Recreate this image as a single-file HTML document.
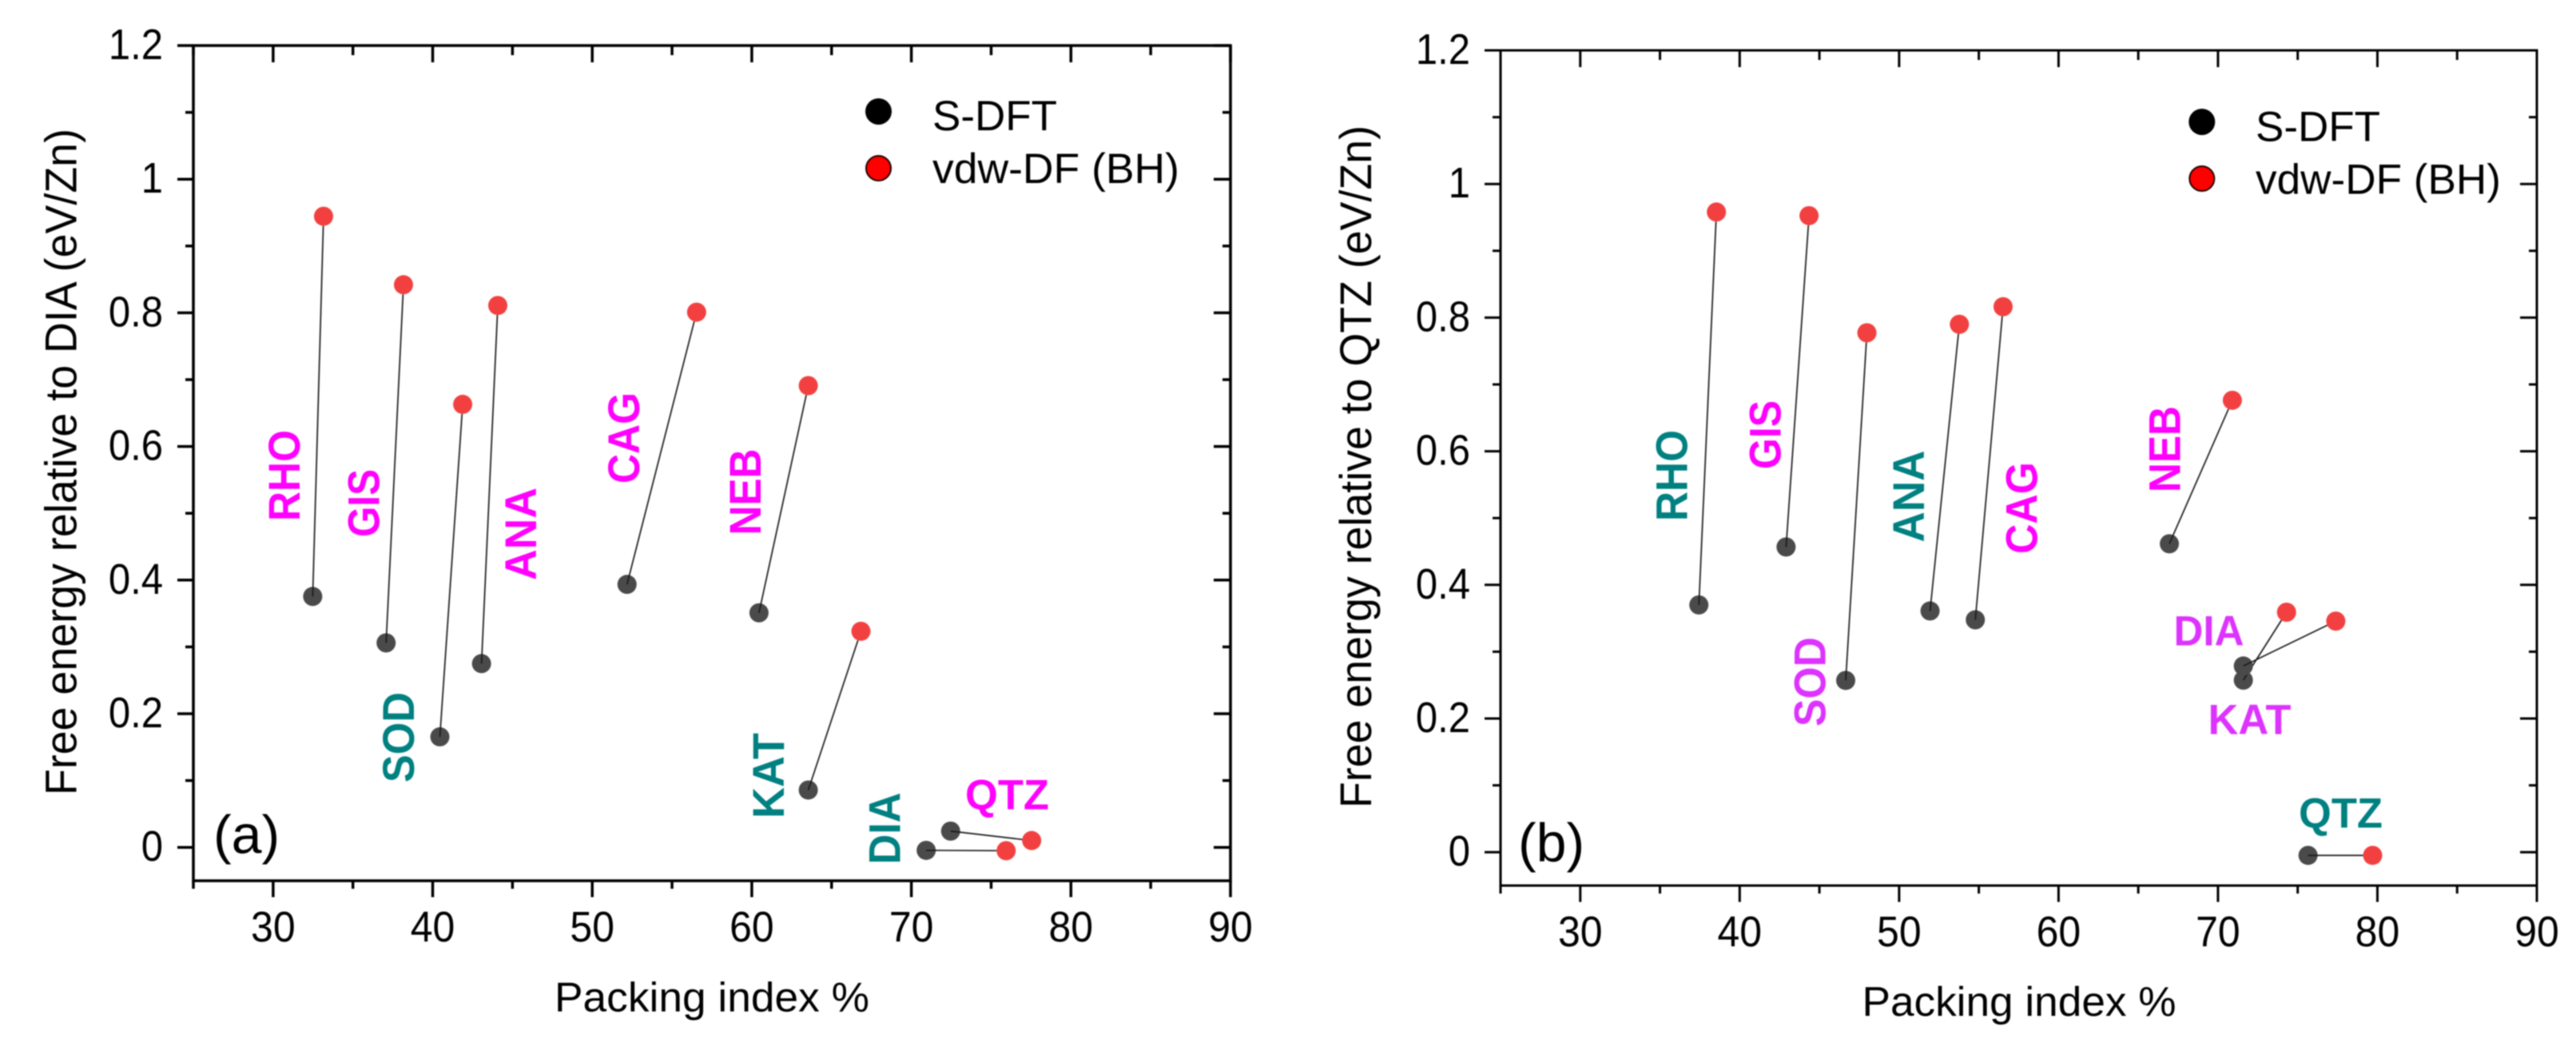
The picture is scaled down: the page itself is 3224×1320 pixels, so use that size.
<!DOCTYPE html>
<html lang="en">
<head>
<meta charset="utf-8">
<title>Free energy vs packing index</title>
<style>
html,body{margin:0;padding:0;background:#fff;width:3224px;height:1320px;overflow:hidden}
svg{display:block;filter:blur(0.7px)}
text{font-family:"Liberation Sans",Arial,sans-serif;fill:#000}
.site{font-weight:bold;font-size:53px}
.rot{font-size:56px}
.teal{fill:#008080}.mag{fill:#ff00ff}.pur{fill:#dd33ff}
.axt{font-size:52px}
.axr{font-size:56px}
.leg{font-size:53px}
.tag{font-size:68px}
</style>
</head>
<body>
<svg id="chart" xmlns="http://www.w3.org/2000/svg" width="3224" height="1320" viewBox="0 0 3224 1320">
  <rect width="3224" height="1320" fill="#fff"/>

  <g id="panel-a">
    <text class="axr" transform="translate(95.5,995) rotate(-90)" textLength="834" lengthAdjust="spacingAndGlyphs">Free energy relative to DIA (eV/Zn)</text>
    <text class="axt" x="694" y="1265.5" textLength="394" lengthAdjust="spacingAndGlyphs">Packing index %</text>
    <text class="tag" x="267" y="1067.5">(a)</text>
    <text class="site rot mag" transform="translate(375,652) rotate(-90)" textLength="114" lengthAdjust="spacingAndGlyphs">RHO</text>
    <text class="site rot mag" transform="translate(474.5,672) rotate(-90)" textLength="85" lengthAdjust="spacingAndGlyphs">GIS</text>
    <text class="site rot mag" transform="translate(671,726) rotate(-90)" textLength="116" lengthAdjust="spacingAndGlyphs">ANA</text>
    <text class="site rot mag" transform="translate(800,605) rotate(-90)" textLength="114" lengthAdjust="spacingAndGlyphs">CAG</text>
    <text class="site rot mag" transform="translate(952,669.5) rotate(-90)" textLength="108" lengthAdjust="spacingAndGlyphs">NEB</text>
    <text class="site rot teal" transform="translate(518,979) rotate(-90)" textLength="113" lengthAdjust="spacingAndGlyphs">SOD</text>
    <text class="site rot teal" transform="translate(981,1024) rotate(-90)" textLength="107" lengthAdjust="spacingAndGlyphs">KAT</text>
    <text class="site rot teal" transform="translate(1126.5,1081.5) rotate(-90)" textLength="90" lengthAdjust="spacingAndGlyphs">DIA</text>
    <text class="site mag" x="1208" y="1012.5" textLength="105" lengthAdjust="spacingAndGlyphs">QTZ</text>
    <g>
      <circle cx="1099.5" cy="139.5" r="16.5" fill="#000"/>
      <text class="leg" x="1167" y="163" textLength="156" lengthAdjust="spacingAndGlyphs">S-DFT</text>
      <circle cx="1099.5" cy="210.5" r="15.5" fill="#ff0000" stroke="#200" stroke-width="2"/>
      <text class="leg" x="1167" y="229" textLength="309" lengthAdjust="spacingAndGlyphs">vdw-DF (BH)</text>
    </g>
  </g>

  <g id="panel-b">
    <text class="axr" transform="translate(1716,1011) rotate(-90)" textLength="854" lengthAdjust="spacingAndGlyphs">Free energy relative to QTZ (eV/Zn)</text>
    <text class="axt" x="2330.5" y="1271" textLength="393" lengthAdjust="spacingAndGlyphs">Packing index %</text>
    <text class="tag" x="1900" y="1077.5">(b)</text>
    <text class="site rot teal" transform="translate(2111.5,652) rotate(-90)" textLength="114" lengthAdjust="spacingAndGlyphs">RHO</text>
    <text class="site rot mag" transform="translate(2228.5,587) rotate(-90)" textLength="86" lengthAdjust="spacingAndGlyphs">GIS</text>
    <text class="site rot pur" transform="translate(2284.5,909) rotate(-90)" textLength="112" lengthAdjust="spacingAndGlyphs">SOD</text>
    <text class="site rot teal" transform="translate(2408,678.5) rotate(-90)" textLength="115" lengthAdjust="spacingAndGlyphs">ANA</text>
    <text class="site rot mag" transform="translate(2549.5,693) rotate(-90)" textLength="115" lengthAdjust="spacingAndGlyphs">CAG</text>
    <text class="site rot mag" transform="translate(2728.5,616) rotate(-90)" textLength="108" lengthAdjust="spacingAndGlyphs">NEB</text>
    <text class="site pur" x="2720.5" y="807.5" textLength="88" lengthAdjust="spacingAndGlyphs">DIA</text>
    <text class="site pur" x="2763.5" y="918.5" textLength="104" lengthAdjust="spacingAndGlyphs">KAT</text>
    <text class="site teal" x="2877" y="1035.5" textLength="105" lengthAdjust="spacingAndGlyphs">QTZ</text>
    <g>
      <circle cx="2755.8" cy="152.5" r="16.5" fill="#000"/>
      <text class="leg" x="2823" y="176.5" textLength="156" lengthAdjust="spacingAndGlyphs">S-DFT</text>
      <circle cx="2755.8" cy="223.5" r="15.5" fill="#ff0000" stroke="#200" stroke-width="2"/>
      <text class="leg" x="2823" y="242.5" textLength="307" lengthAdjust="spacingAndGlyphs">vdw-DF (BH)</text>
    </g>
  </g>
</svg>
<script>
// Shared axis tick values
const xTickLabels = [30, 40, 50, 60, 70, 80, 90];
const xMinorTicks = [25, 35, 45, 55, 65, 75, 85];
const yTickLabels = [0, 0.2, 0.4, 0.6, 0.8, 1, 1.2];
const yMinorTicks = [0.1, 0.3, 0.5, 0.7, 0.9, 1.1];

// Panel (a): energies relative to DIA
const categoriesA = ['RHO', 'GIS', 'SOD', 'ANA', 'CAG', 'NEB', 'KAT', 'QTZ', 'DIA'];
const sDftPackingA = [32.48, 37.08, 40.45, 43.06, 52.18, 60.45, 63.54, 72.46, 70.93];
const sDftEnergyA = [0.3755, 0.306, 0.1654, 0.275, 0.3936, 0.351, 0.0858, 0.0243, -0.0045];
const vdwPackingA = [33.16, 38.17, 41.88, 44.08, 56.54, 63.54, 66.84, 77.54, 75.94];
const vdwEnergyA = [0.9445, 0.842, 0.663, 0.811, 0.801, 0.691, 0.3234, 0.0102, -0.005];

// Panel (b): energies relative to QTZ
const categoriesB = ['RHO', 'GIS', 'SOD', 'ANA', 'CAG', 'NEB', 'KAT', 'DIA', 'QTZ'];
const sDftPackingB = [37.44, 42.91, 46.65, 51.94, 54.78, 66.95, 71.59, 71.59, 75.65];
const sDftEnergyB = [0.37, 0.4567, 0.257, 0.361, 0.3477, 0.4615, 0.2574, 0.2786, -0.0048];
const vdwPackingB = [38.54, 44.35, 47.98, 53.78, 56.52, 70.9, 74.3, 77.39, 79.7];
const vdwEnergyB = [0.958, 0.9526, 0.7773, 0.79, 0.8163, 0.6763, 0.3591, 0.3458, -0.0048];

const NS = 'http://www.w3.org/2000/svg';
const X_MIN = 25, X_MAX = 90, Y_MIN = -0.05, Y_MAX = 1.2;

function make(parent, tag, attrs, txt) {
  const el = document.createElementNS(NS, tag);
  for (const k in attrs) el.setAttribute(k, attrs[k]);
  if (txt !== undefined) el.textContent = txt;
  parent.appendChild(el);
  return el;
}

// Natural advance of a numeric label, in em, used to narrow tall digits
function numWidth(s) {
  let w = 0;
  for (const ch of s) w += ch === '.' ? 0.278 : 0.556;
  return w;
}

function drawPanel(id, suffix, box, cats, sx, sy, vx, vy) {
  const root = document.getElementById(id);
  const xs = v => box.left + (v - X_MIN) / (X_MAX - X_MIN) * (box.right - box.left);
  const ys = v => box.bottom - (v - Y_MIN) / (Y_MAX - Y_MIN) * (box.bottom - box.top);
  const tickStyle = {stroke: '#000', 'stroke-width': box.sw, fill: 'none'};

  const frame = make(root, 'rect', Object.assign({x: box.left, y: box.top, width: box.right - box.left, height: box.bottom - box.top}, tickStyle));
  
  

  const xAxis = make(root, 'g', {});
  
  
  const yAxis = make(root, 'g', {});
  
  

  const hTick = (v, outLen, inLen) => {
    const y = ys(v);
    const a = make(yAxis, 'line', Object.assign({x1: box.left - outLen, x2: box.left, y1: y, y2: y}, tickStyle));
    
    
    const b = make(yAxis, 'line', Object.assign({x1: box.right - inLen, x2: box.right, y1: y, y2: y}, tickStyle));
    
    
  };
  const vTick = (v, outLen, inLen) => {
    const x = xs(v);
    const a = make(xAxis, 'line', Object.assign({x1: x, x2: x, y1: box.bottom, y2: box.bottom + outLen}, tickStyle));
    
    
    const b = make(xAxis, 'line', Object.assign({x1: x, x2: x, y1: box.top, y2: box.top + inLen}, tickStyle));
    
    
  };

  xTickLabels.forEach(v => {
    vTick(v, 20.5, 21);
    const s = String(v);
    const t = make(xAxis, 'text', {x: xs(v), y: box.bottom + 76, 'text-anchor': 'middle', 'font-size': 54, textLength: numWidth(s) * 50, lengthAdjust: 'spacingAndGlyphs'}, s);
    
    
  });
  xMinorTicks.forEach(v => vTick(v, 10, 12));
  yTickLabels.forEach(v => {
    hTick(v, 20, 21);
    const s = String(v);
    const t = make(yAxis, 'text', {x: box.left - 38, y: ys(v) + 17, 'text-anchor': 'end', 'font-size': 54, textLength: numWidth(s) * 49, lengthAdjust: 'spacingAndGlyphs'}, s);
    
    
  });
  yMinorTicks.forEach(v => hTick(v, 10, 10));

  const R = 12;
  cats.forEach((c, i) => {
    const group = make(root, 'g', {});
    
    
    const x1 = xs(sx[i]), y1 = ys(sy[i]), x2 = xs(vx[i]), y2 = ys(vy[i]);
    const black = make(group, 'circle', {cx: x1, cy: y1, r: R, fill: '#4a4a4a'});
    
    
    const red = make(group, 'circle', {cx: x2, cy: y2, r: R, fill: '#f24040'});
    
    
    const len = Math.hypot(x2 - x1, y2 - y1);
    const link = make(group, 'line', {
      x1: x1, y1: y1,
      x2: x2 - (x2 - x1) / len * R, y2: y2 - (y2 - y1) / len * R,
      stroke: '#1a1a1a', 'stroke-width': 1.7
    });
    
    
  });
}

drawPanel('panel-a', 'a', {left: 242, right: 1540, top: 57, bottom: 1102, sw: 3.5},
  categoriesA, sDftPackingA, sDftEnergyA, vdwPackingA, vdwEnergyA);
drawPanel('panel-b', 'b', {left: 1878, right: 3175, top: 63, bottom: 1108, sw: 3},
  categoriesB, sDftPackingB, sDftEnergyB, vdwPackingB, vdwEnergyB);
</script>
</body>
</html>
